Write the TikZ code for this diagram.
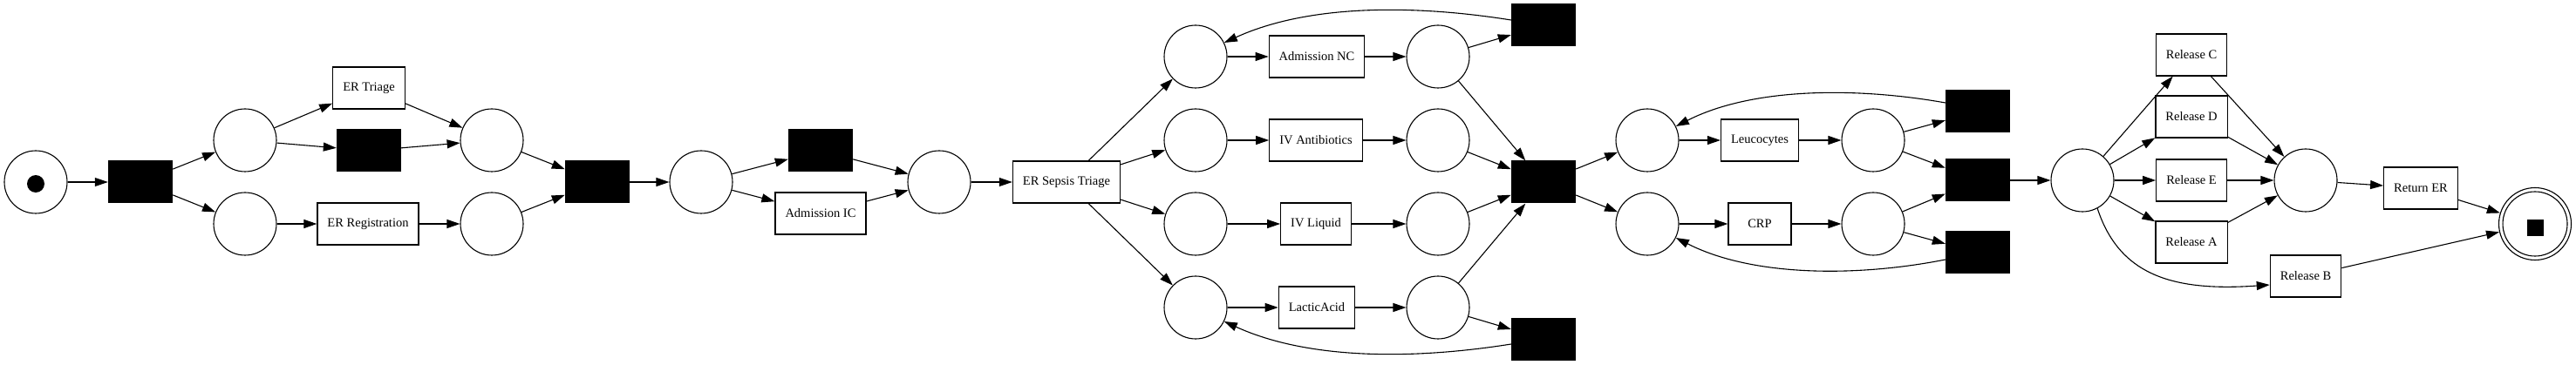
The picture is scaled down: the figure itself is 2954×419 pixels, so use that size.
\documentclass[tikz,border=0pt]{standalone}
\usepackage{fontspec}
\setmainfont{Liberation Serif}
\usetikzlibrary{arrows.meta}
\begin{document}
\begin{tikzpicture}[x=1pt,y=-1pt,
  every node/.style={font=\fontsize{14.5}{17}\selectfont},
  place/.style={circle, draw, line width=1.1pt, minimum size=72pt, inner sep=0pt},
  trans/.style={rectangle, draw, line width=1.2pt, minimum width=72pt, minimum height=48pt, inner xsep=11.5pt, inner ysep=0pt},
  silent/.style={rectangle, fill=black, minimum width=74pt, minimum height=49pt, inner sep=0pt},
  arc/.style={-{Triangle[length=15pt,width=10pt]}, line width=1.1pt},
]
\useasboundingbox (0,0) rectangle (2954,419);
% places and transitions
\node[place] (init) at (41,209) {};
\node[circle, fill=black, minimum size=20pt, inner sep=0pt] (tok) at (41,211) {};
\node[silent] (t1) at (161,209) {};
\node[place] (p2) at (281,161) {};
\node[place] (p3) at (281,257) {};
\node[trans] (triage) at (423,101) {ER Triage};
\node[silent] (tau1) at (423,173) {};
\node[trans] (reg) at (422,257) {ER Registration};
\node[place] (p4) at (564,161) {};
\node[place] (p5) at (564,257) {};
\node[silent] (t2) at (685,209) {};
\node[place] (p6) at (804,209) {};
\node[silent] (tau2) at (941,173) {};
\node[trans] (admic) at (941,245) {Admission IC};
\node[place] (p7) at (1077,209) {};
\node[trans] (sepsis) at (1223,209) {ER Sepsis Triage};
\node[place] (a) at (1371,65) {};
\node[place] (b) at (1371,161) {};
\node[place] (c) at (1371,257) {};
\node[place] (d) at (1371,353) {};
\node[trans] (admnc) at (1510,65) {Admission NC};
\node[trans] (ivab) at (1509,161) {IV Antibiotics};
\node[trans] (ivl) at (1509,257) {IV Liquid};
\node[trans] (lactic) at (1510,353) {LacticAcid};
\node[place] (a2) at (1649,65) {};
\node[place] (b2) at (1649,161) {};
\node[place] (c2) at (1649,257) {};
\node[place] (d2) at (1649,353) {};
\node[silent] (tauA) at (1770,29) {};
\node[silent] (t3) at (1770,209) {};
\node[silent] (tauD) at (1770,389) {};
\node[place] (L1) at (1889,161) {};
\node[place] (C1) at (1889,257) {};
\node[trans] (leuco) at (2018,161) {Leucocytes};
\node[trans] (crp) at (2018,257) {CRP};
\node[place] (L2) at (2148,161) {};
\node[place] (C2) at (2148,257) {};
\node[silent] (tauL) at (2268,128) {};
\node[silent] (t4) at (2268,207) {};
\node[silent] (tauC) at (2268,290) {};
\node[place] (R1) at (2388,207) {};
\node[trans] (relC) at (2513,63) {Release C};
\node[trans] (relD) at (2513,134) {Release D};
\node[trans] (relE) at (2513,207) {Release E};
\node[trans] (relA) at (2513,278) {Release A};
\node[trans] (relB) at (2644,317) {Release B};
\node[place] (R2) at (2644,207) {};
\node[trans] (ret) at (2776,216) {Return ER};
\node[place, minimum size=83pt] (fin) at (2907,257) {};
\node[place, minimum size=74pt] (fin2) at (2907,257) {};
\node[rectangle, fill=black, minimum size=19pt, inner sep=0pt] (fintok) at (2907,262) {};
% arcs
\draw[arc] (init) -- (t1);
\draw[arc] (t1) -- (p2);
\draw[arc] (t1) -- (p3);
\draw[arc] (p2) -- (triage);
\draw[arc] (p2) -- (tau1);
\draw[arc] (triage) -- (p4);
\draw[arc] (tau1) -- (p4);
\draw[arc] (p3) -- (reg);
\draw[arc] (reg) -- (p5);
\draw[arc] (p4) -- (t2);
\draw[arc] (p5) -- (t2);
\draw[arc] (t2) -- (p6);
\draw[arc] (p6) -- (tau2);
\draw[arc] (p6) -- (admic);
\draw[arc] (tau2) -- (p7);
\draw[arc] (admic) -- (p7);
\draw[arc] (p7) -- (sepsis);
\draw[arc] (sepsis) -- (a);
\draw[arc] (sepsis) -- (b);
\draw[arc] (sepsis) -- (c);
\draw[arc] (sepsis) -- (d);
\draw[arc] (a) -- (admnc);
\draw[arc] (b) -- (ivab);
\draw[arc] (c) -- (ivl);
\draw[arc] (d) -- (lactic);
\draw[arc] (admnc) -- (a2);
\draw[arc] (ivab) -- (b2);
\draw[arc] (ivl) -- (c2);
\draw[arc] (lactic) -- (d2);
\draw[arc] (a2) -- (tauA);
\draw[arc] (d2) -- (tauD);
\draw[arc] (a2) -- (t3);
\draw[arc] (b2) -- (t3);
\draw[arc] (c2) -- (t3);
\draw[arc] (d2) -- (t3);
\draw[arc] ([yshift=6pt]tauA.west) .. controls (1620,5) and (1500,5) .. (a.26);
\draw[arc] ([yshift=-6pt]tauD.west) .. controls (1620,413) and (1500,413) .. (d.-26);
\draw[arc] (t3) -- (L1);
\draw[arc] (t3) -- (C1);
\draw[arc] (L1) -- (leuco);
\draw[arc] (leuco) -- (L2);
\draw[arc] (C1) -- (crp);
\draw[arc] (crp) -- (C2);
\draw[arc] (L2) -- (tauL);
\draw[arc] (L2) -- (t4);
\draw[arc] (C2) -- (t4);
\draw[arc] (C2) -- (tauC);
\draw[arc] ([yshift=10pt]tauL.west) .. controls (2130,100) and (2010,100) .. (L1.26);
\draw[arc] ([yshift=-8pt]tauC.west) .. controls (2130,318) and (2010,318) .. (C1.-26);
\draw[arc] (t4) -- (R1);
\draw[arc] (R1) -- (relC);
\draw[arc] (R1) -- (relD);
\draw[arc] (R1) -- (relE);
\draw[arc] (R1) -- (relA);
\draw[arc] (R1.-62) .. controls (2430,315) and (2490,335) .. ([yshift=-10pt]relB.west);
\draw[arc] (relC) -- (R2);
\draw[arc] (relD) -- (R2);
\draw[arc] (relE) -- (R2);
\draw[arc] (relA) -- (R2);
\draw[arc] (R2) -- (ret);
\draw[arc] (ret) -- (fin);
\draw[arc] (relB) -- (fin);
\end{tikzpicture}
\end{document}
